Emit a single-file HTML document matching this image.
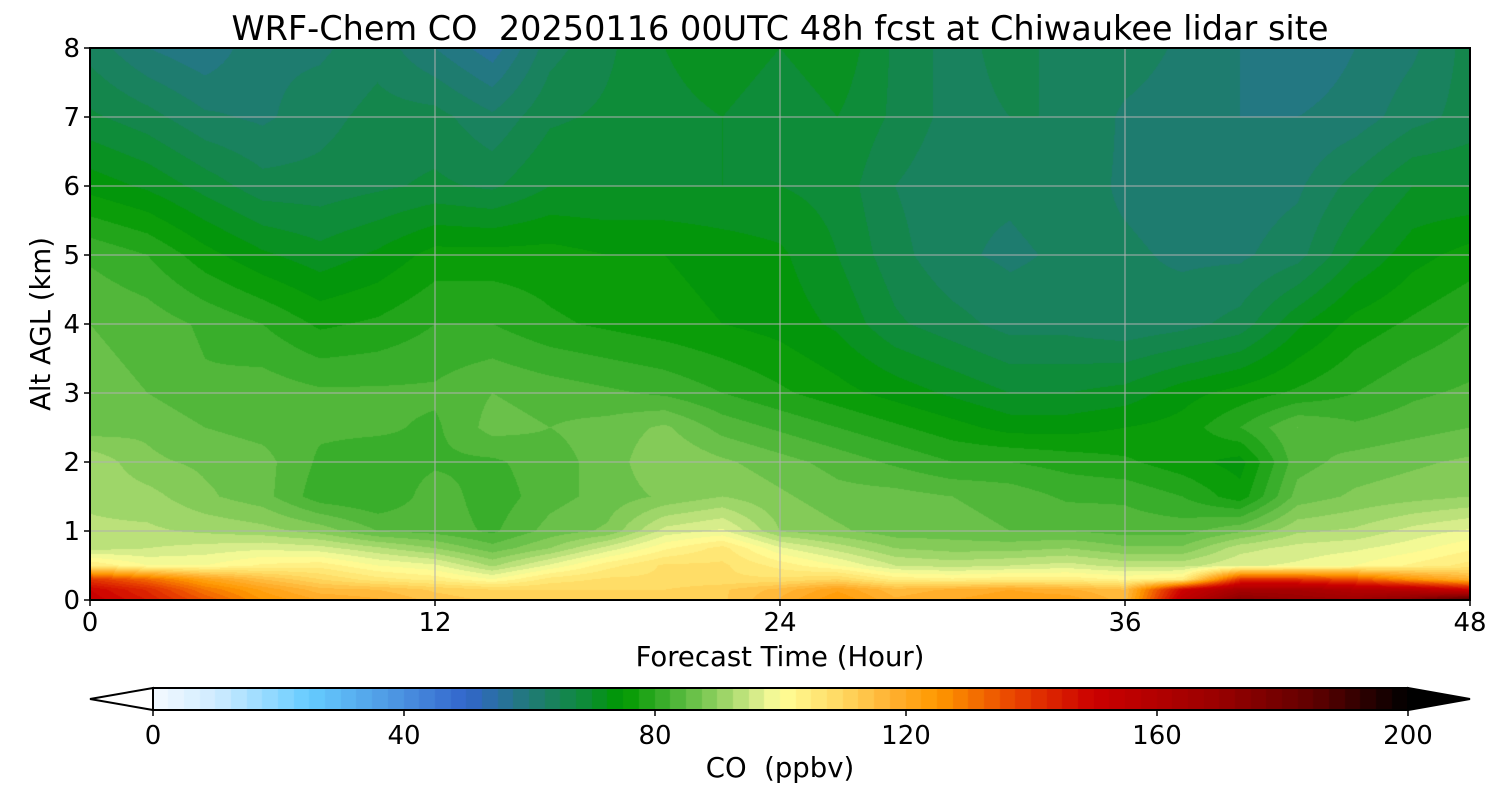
<!DOCTYPE html>
<html><head><meta charset="utf-8"><style>
body{margin:0;background:#fff;width:1500px;height:800px;overflow:hidden;font-family:"DejaVu Sans","Liberation Sans",sans-serif}
#wrap{position:relative;width:1500px;height:800px}
canvas{position:absolute}
svg{position:absolute;left:0;top:0}
svg text{font-family:"DejaVu Sans","Liberation Sans",sans-serif;white-space:pre}
</style></head><body><div id="wrap">
<canvas id="field" width="1380" height="552" style="left:90px;top:48px"></canvas>
<canvas id="cbar" width="1255" height="22" style="left:153px;top:688px"></canvas>
<svg id="ov" width="1500" height="800"></svg>
</div>
<script>
const hours=[0,2,4,6,8,10,12,14,16,18,20,22,24,26,28,30,32,34,36,38,40,42,44,46,48];
const levels=[0,0.15,0.3,0.5,0.75,1,1.5,2,2.5,3,4,5,6,7,8];
const co_0=[152,145,135,125,120,118,114,112,112,112,110,112,118,125,118,120,122,122,116,155,175,170,168,175,190];
const co_015=[150,142,130,122,116,115,112,110,110,110,110,112,116,122,116,118,120,118,115,150,165,165,160,158,150];
const co_03=[140,132,122,115,110,106,104,100,106,108,108,108,108,110,104,103,104,104,102,104,140,140,135,125,118];
const co_05=[105,100,100,103,104,100,98,92,98,104,108,108,104,100,95,94,95,96,94,94,97,98,100,103,106];
const co_075=[94,95,96,97,96,93,90,86,90,96,102,106,98,94,90,89,89,90,88,88,94,96,97,99,102];
const co_1=[93,93,92,91,89,85,84,82,86,88,96,98,90,88,86,86,85,85,84,84,87,92,93,96,98];
const co_15=[92,91,88,86,81,80,84,81,84,86,88,90,88,86,86,85,84,82,82,80,76,86,88,89,90];
const co_2=[92,88,87,86,82,81,82,82,84,86,90,88,86,84,82,80,80,79,78,76,74,84,86,87,88];
const co_25=[86,87,85,84,83,83,82,86,85,86,88,84,82,80,78,76,74,74,75,76,80,85,83,84,85];
const co_3=[86,85,83,84,83,83,83,85,84,83,82,80,78,76,74,72,70,70,71,74,76,78,80,82,83];
const co_4=[85,84,82,80,77,78,80,80,78,77,76,75,74,72,68,66,64,64,63,64,66,72,76,78,80];
const co_5=[82,80,76,73,71,73,76,76,76,75,75,74,73,70,66,63,62,63,63,62,62,64,70,74,76];
const co_6=[74,72,69,66,66,67,68,67,70,70,70,70,70,69,65,63,63,64,62,61,61,62,66,70,70];
const co_7=[68,66,63,62,64,66,66,63,67,68,69,70,68,70,67,64,65,65,62,61,60,60,61,64,66];
const co_8=[64,60,58,62,62,64,60,56,64,67,70,72,70,72,67,64,66,64,64,62,60,58,60,62,66];
const field=[co_0,co_015,co_03,co_05,co_075,co_1,co_15,co_2,co_25,co_3,co_4,co_5,co_6,co_7,co_8];
const cmapVals=[0,10,25,40,50,60,68,75,82,90,97,100,110,118,125,138,150,170,185,200];
const cmapCols=["f5faff","d0ecff","66ccff","4a90e0","3366cc","217a78","108a40","009900","40b030","90d060","e0f090","ffff99","ffd860","ffb030","ff9900","e84000","cc0000","990000","600000","000000"];
const cbTicks=[0,40,80,120,160,200];
const xTicks=[0,12,24,36,48];
const yTicks=[0,1,2,3,4,5,6,7,8];

const PX=90,PY=48,PW=1380,PH=552;
const xs=t=>PX+t/48*PW, ys=a=>PY+PH-a/8*PH;
function hex(h){return [parseInt(h.substr(0,2),16),parseInt(h.substr(2,2),16),parseInt(h.substr(4,2),16)];}
const cc=cmapCols.map(hex);
function color(v){
  v=Math.floor(v/2.5)*2.5+1.25;
  if(v<=cmapVals[0])return cc[0];
  for(let i=1;i<cmapVals.length;i++){if(v<=cmapVals[i]){const f=(v-cmapVals[i-1])/(cmapVals[i]-cmapVals[i-1]);const a=cc[i-1],b=cc[i];return [a[0]+(b[0]-a[0])*f,a[1]+(b[1]-a[1])*f,a[2]+(b[2]-a[2])*f];}}
  return cc[cc.length-1];
}
function idx(arr,v){let i=0;while(i<arr.length-2&&v>arr[i+1])i++;return [i,(v-arr[i])/(arr[i+1]-arr[i])];}
const ctx=document.getElementById('field').getContext('2d');
const img=ctx.createImageData(PW,PH);
for(let py=0;py<PH;py++){
  const a=(PH-py-0.5)/PH*8;const [li,lf]=idx(levels,a);
  for(let px=0;px<PW;px++){
    const t=(px+0.5)/PW*48;const [ti,tf]=idx(hours,t);
    const v=(field[li][ti]*(1-tf)+field[li][ti+1]*tf)*(1-lf)+(field[li+1][ti]*(1-tf)+field[li+1][ti+1]*tf)*lf;
    const c=color(v);const k=(py*PW+px)*4;
    img.data[k]=c[0];img.data[k+1]=c[1];img.data[k+2]=c[2];img.data[k+3]=255;
  }
}
ctx.putImageData(img,0,0);
const cb=document.getElementById('cbar').getContext('2d');
for(let v=0;v<200;v+=2.5){const c=color(v);cb.fillStyle=`rgb(${c[0]|0},${c[1]|0},${c[2]|0})`;const x0=v/200*1255;cb.fillRect(Math.floor(x0),0,Math.ceil(1255/80)+1,22);}

const ov=document.getElementById('ov');const NS='http://www.w3.org/2000/svg';
function el(tag,attrs,txt){const e=document.createElementNS(NS,tag);for(const k in attrs)e.setAttribute(k,attrs[k]);if(txt!==undefined)e.textContent=txt;ov.appendChild(e);return e;}
xTicks.forEach(t=>{
  if(t>0&&t<48){const g=el('line',{x1:xs(t),x2:xs(t),y1:PY,y2:PY+PH,stroke:'#b0b0b0','stroke-width':1});
  
  }
  const tk=el('line',{x1:xs(t),x2:xs(t),y1:PY+PH,y2:PY+PH+6,stroke:'#000','stroke-width':1.5});
  
  
  const lb=el('text',{x:xs(t),y:631,'font-size':26,'text-anchor':'middle'},String(t));
  
  
});
yTicks.forEach(a=>{
  if(a>0&&a<8){const g=el('line',{x1:PX,x2:PX+PW,y1:ys(a),y2:ys(a),stroke:'#b0b0b0','stroke-width':1});
  
  }
  const tk=el('line',{x1:PX-6,x2:PX,y1:ys(a),y2:ys(a),stroke:'#000','stroke-width':1.5});
  
  
  const lb=el('text',{x:80,y:ys(a)+9,'font-size':26,'text-anchor':'end'},String(a));
  
  
});
const fr=el('rect',{x:PX,y:PY,width:PW,height:PH,fill:'none',stroke:'#000','stroke-width':2});


const ti=el('text',{x:780,y:40,'font-size':33.5,'text-anchor':'middle'},'WRF-Chem CO  20250116 00UTC 48h fcst at Chiwaukee lidar site');


const xl=el('text',{x:780,y:666,'font-size':27.5,'text-anchor':'middle'},'Forecast Time (Hour)');


const yl=el('text',{x:0,y:0,'font-size':27.5,'text-anchor':'middle',transform:'translate(50,324) rotate(-90)'},'Alt AGL (km)');


const lt=el('polygon',{points:'153,688 90,699 153,710',fill:'#fff',stroke:'#000','stroke-width':2});


const rt=el('polygon',{points:'1408,688 1470,699 1408,710',fill:'#000',stroke:'#000','stroke-width':2});


const cbf=el('rect',{x:153,y:688,width:1255,height:22,fill:'none',stroke:'#000','stroke-width':2});


cbTicks.forEach(v=>{
  const x=153+v/200*1255;
  const tk=el('line',{x1:x,x2:x,y1:710,y2:716,stroke:'#000','stroke-width':1.5});
  
  
  const lb=el('text',{x:x,y:744,'font-size':26,'text-anchor':'middle'},String(v));
  
  
});
const cl=el('text',{x:780,y:777,'font-size':27.5,'text-anchor':'middle'},'CO  (ppbv)');


</script></body></html>
